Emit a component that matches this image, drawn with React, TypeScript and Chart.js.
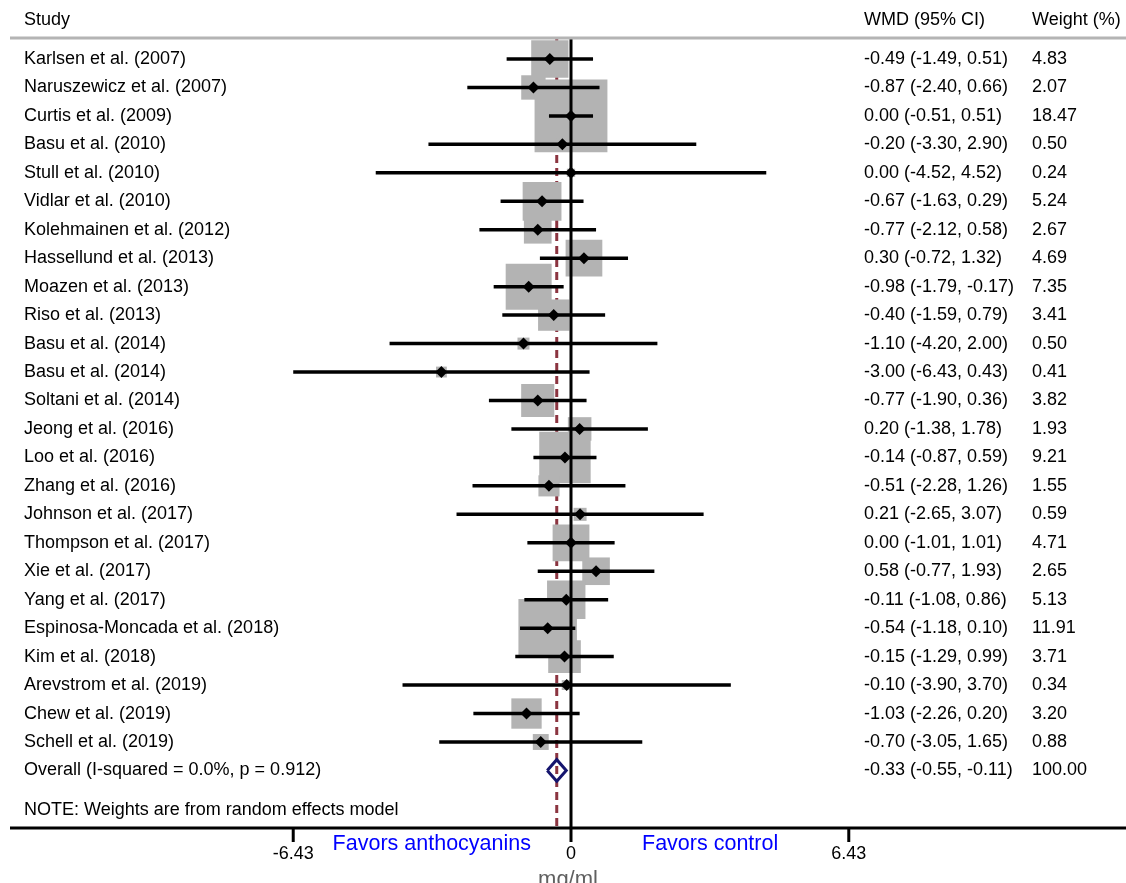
import React, { useEffect, useRef } from "react";
import { Chart, registerables } from "chart.js";

Chart.register(...registerables);

const studies = [
  "Karlsen et al. (2007)",
  "Naruszewicz et al. (2007)",
  "Curtis et al. (2009)",
  "Basu et al. (2010)",
  "Stull et al. (2010)",
  "Vidlar et al. (2010)",
  "Kolehmainen et al. (2012)",
  "Hassellund et al. (2013)",
  "Moazen et al. (2013)",
  "Riso et al. (2013)",
  "Basu et al. (2014)",
  "Basu et al. (2014)",
  "Soltani et al. (2014)",
  "Jeong et al. (2016)",
  "Loo et al. (2016)",
  "Zhang et al. (2016)",
  "Johnson et al. (2017)",
  "Thompson et al. (2017)",
  "Xie et al. (2017)",
  "Yang et al. (2017)",
  "Espinosa-Moncada et al. (2018)",
  "Kim et al. (2018)",
  "Arevstrom et al. (2019)",
  "Chew et al. (2019)",
  "Schell et al. (2019)",
];
const estimates = [-0.49, -0.87, 0.0, -0.2, 0.0, -0.67, -0.77, 0.3, -0.98, -0.4, -1.1, -3.0, -0.77, 0.2, -0.14, -0.51, 0.21, 0.0, 0.58, -0.11, -0.54, -0.15, -0.1, -1.03, -0.7];
const lower = [-1.49, -2.4, -0.51, -3.3, -4.52, -1.63, -2.12, -0.72, -1.79, -1.59, -4.2, -6.43, -1.9, -1.38, -0.87, -2.28, -2.65, -1.01, -0.77, -1.08, -1.18, -1.29, -3.9, -2.26, -3.05];
const upper = [0.51, 0.66, 0.51, 2.9, 4.52, 0.29, 0.58, 1.32, -0.17, 0.79, 2.0, 0.43, 0.36, 1.78, 0.59, 1.26, 3.07, 1.01, 1.93, 0.86, 0.1, 0.99, 3.7, 0.2, 1.65];
const weights = [4.83, 2.07, 18.47, 0.5, 0.24, 5.24, 2.67, 4.69, 7.35, 3.41, 0.5, 0.41, 3.82, 1.93, 9.21, 1.55, 0.59, 4.71, 2.65, 5.13, 11.91, 3.71, 0.34, 3.2, 0.88];

const overallLabel = "Overall (I-squared = 0.0%, p = 0.912)";
const overallEst = -0.33;
const overallLower = -0.55;
const overallUpper = -0.11;
const overallWeight = 100.0;

const axisTicks = [-6.43, 0, 6.43];
const noteText = "NOTE: Weights are from random effects model";
const leftFavor = "Favors anthocyanins";
const rightFavor = "Favors control";
const axisTitle = "mg/ml";

const fmt = (v: number) => v.toFixed(2);
const FONT = '"Liberation Sans", Arial, Helvetica, sans-serif';

export default function App() {
  const ref = useRef<HTMLCanvasElement | null>(null);

  useEffect(() => {
    document.body.style.margin = "0";
    document.body.style.overflow = "hidden";
    const canvas = ref.current;
    if (!canvas) return;

    const overallRow = studies.length;

    const textPlugin = {
      id: "forestText",
      afterDraw(chart: any) {
        const ctx = chart.ctx as CanvasRenderingContext2D;
        const xs = chart.scales.x;
        const ys = chart.scales.y;
        ctx.save();
        // top separator
        ctx.strokeStyle = "#b4b4b4";
        ctx.lineWidth = 3;
        ctx.beginPath();
        ctx.moveTo(10, 38);
        ctx.lineTo(1126, 38);
        ctx.stroke();
        // bottom axis line
        ctx.strokeStyle = "#000";
        ctx.beginPath();
        ctx.moveTo(10, 828);
        ctx.lineTo(1126, 828);
        ctx.stroke();
        // ticks
        ctx.font = "18px " + FONT;
        ctx.fillStyle = "#000";
        ctx.textAlign = "center";
        ctx.textBaseline = "middle";
        axisTicks.forEach((t) => {
          const px = xs.getPixelForValue(t);
          ctx.beginPath();
          ctx.moveTo(px, 828);
          ctx.lineTo(px, 842);
          ctx.stroke();
          ctx.fillText(String(t), px, 854);
        });
        // headers
        ctx.textAlign = "left";
        ctx.font = "18px " + FONT;
        ctx.fillText("Study", 24, 20);
        ctx.fillText("WMD (95% CI)", 864, 20);
        ctx.fillText("Weight (%)", 1032, 20);
        // rows
        studies.forEach((s, i) => {
          const py = ys.getPixelForValue(i);
          ctx.fillText(s, 24, py);
          ctx.fillText(`${fmt(estimates[i])} (${fmt(lower[i])}, ${fmt(upper[i])})`, 864, py);
          ctx.fillText(fmt(weights[i]), 1032, py);
        });
        const oy = ys.getPixelForValue(overallRow);
        ctx.fillText(overallLabel, 24, oy);
        ctx.fillText(`${fmt(overallEst)} (${fmt(overallLower)}, ${fmt(overallUpper)})`, 864, oy);
        ctx.fillText(fmt(overallWeight), 1032, oy);
        ctx.fillText(noteText, 24, 810);
        // favors
        const x0 = xs.getPixelForValue(0);
        ctx.font = "21.5px " + FONT;
        ctx.fillStyle = "#0000ff";
        ctx.textAlign = "right";
        ctx.fillText(leftFavor, x0 - 40, 844);
        ctx.textAlign = "left";
        ctx.fillText(rightFavor, x0 + 71, 844);
        ctx.font = "22px " + FONT;
        ctx.fillStyle = "#606060";
        ctx.textAlign = "center";
        ctx.textBaseline = "alphabetic";
        ctx.fillText(axisTitle, x0 - 3, 886);
        ctx.restore();
      },
    };

    const ciDatasets = studies.map((_, i) => ({
      data: [
        { x: lower[i], y: i },
        { x: upper[i], y: i },
      ],
      showLine: true,
      borderColor: "#000",
      borderWidth: 3.5,
      pointRadius: 0,
      order: 1,
      clip: false,
    }));

    const chart = new Chart(canvas, {
      type: "scatter",
      data: {
        datasets: [
          {
            data: estimates.map((e, i) => ({ x: e, y: i })),
            pointStyle: "rectRot",
            pointRadius: 6,
            backgroundColor: "#000",
            borderColor: "#000",
            borderWidth: 0,
            order: 0,
            clip: false,
          } as any,
          ...ciDatasets,
          {
            data: [
              { x: 0, y: -0.74 },
              { x: 0, y: 27.0 },
            ],
            showLine: true,
            borderColor: "#000",
            borderWidth: 3,
            pointRadius: 0,
            order: 2,
            clip: false,
          },
          {
            data: [
              { x: overallLower, y: overallRow },
              { x: overallEst, y: overallRow - 0.38 },
              { x: overallUpper, y: overallRow },
              { x: overallEst, y: overallRow + 0.38 },
              { x: overallLower, y: overallRow },
            ],
            showLine: true,
            borderColor: "#15156e",
            borderWidth: 3,
            borderJoinStyle: "miter",
            pointRadius: 0,
            order: 2,
            clip: false,
          } as any,
          {
            data: estimates.map((e, i) => ({ x: e, y: i, w: weights[i] })),
            pointStyle: "rect",
            pointRadius: (c: any) => {
              const w = c.raw ? c.raw.w : 1;
              return (16.95 * Math.sqrt(w)) / Math.SQRT2;
            },
            backgroundColor: "#b3b3b3",
            borderWidth: 0,
            order: 3,
            clip: false,
          } as any,
          {
            data: [
              { x: overallEst, y: -0.74 },
              { x: overallEst, y: 27.0 },
            ],
            showLine: true,
            borderColor: "#8b3440",
            borderWidth: 3,
            borderDash: [8, 5],
            pointRadius: 0,
            order: 4,
            clip: false,
          } as any,
        ],
      },
      options: {
        responsive: false,
        animation: false,
        events: [],
        layout: { padding: 0, autoPadding: false },
        plugins: { legend: { display: false }, tooltip: { enabled: false } },
        scales: {
          x: { type: "linear", display: false, bounds: "data", min: -571 / 43.2, max: (1126 - 571) / 43.2 },
          y: { type: "linear", display: false, bounds: "data", reverse: true, min: -59 / 28.458, max: -59 / 28.458 + 883 / 28.458 },
        },
      },
      plugins: [textPlugin],
    });
    return () => chart.destroy();
  }, []);

  return (
    <div style={{ width: 1126, height: 883, background: "#fff" }}>
      <canvas ref={ref} width={1126} height={883} style={{ display: "block" }} />
    </div>
  );
}
